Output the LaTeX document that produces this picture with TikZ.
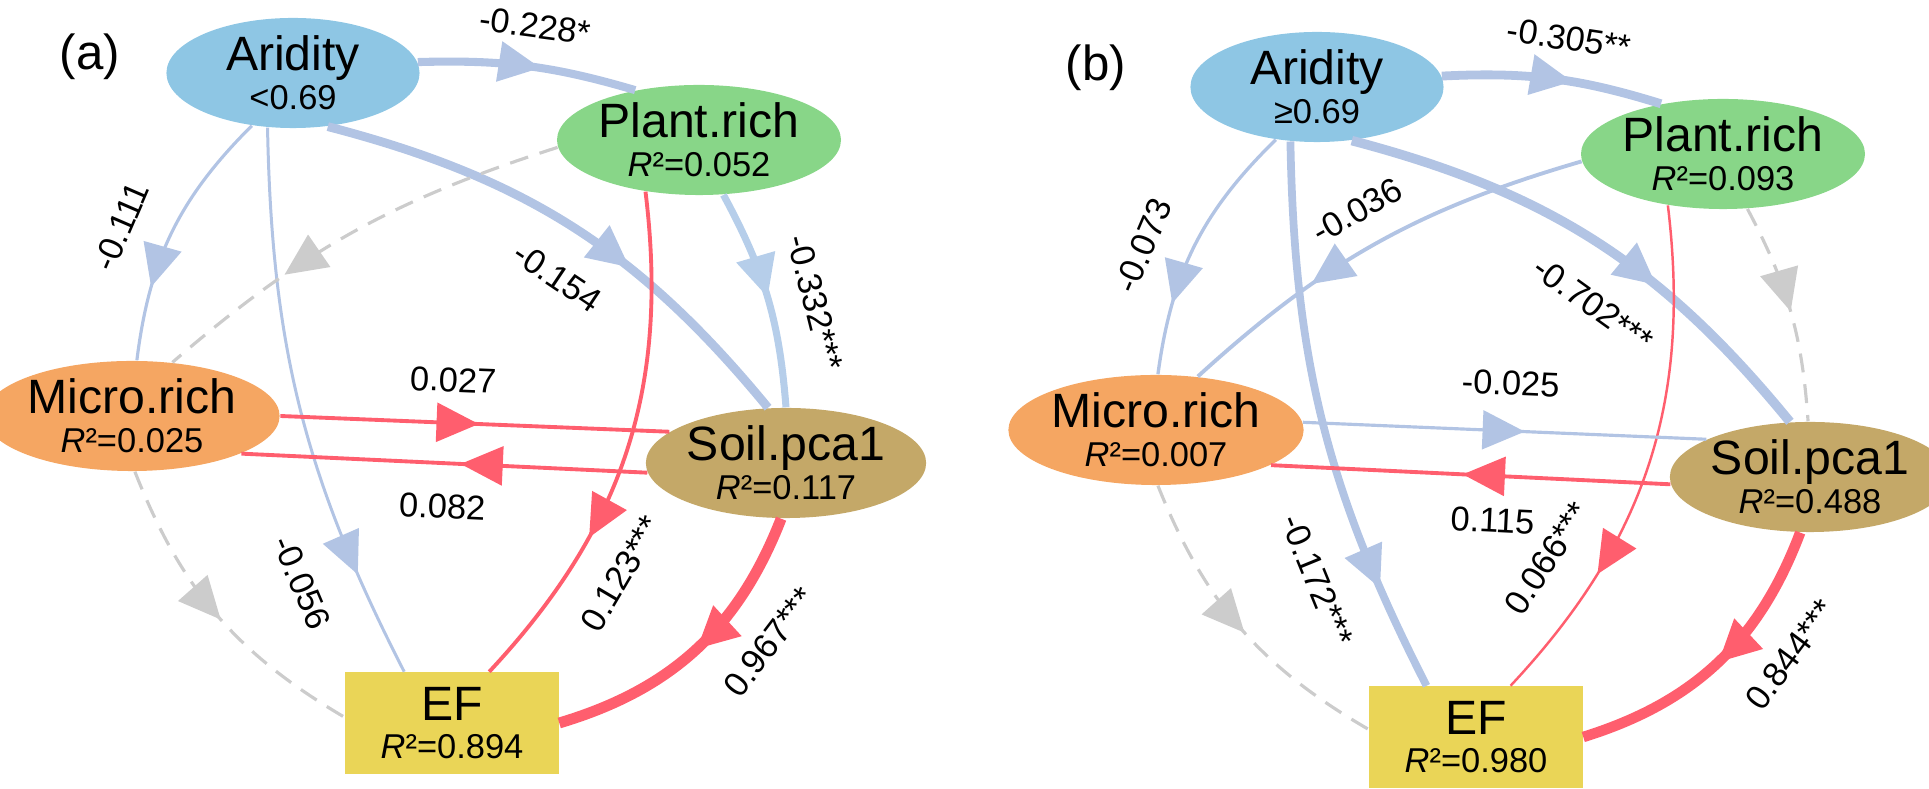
\documentclass[tikz,border=0pt]{standalone}
\usepackage{fontspec}
\setmainfont{Liberation Sans}
\usetikzlibrary{shapes.geometric,arrows.meta,decorations.markings}

\definecolor{aridblue}{RGB}{142,198,228}
\definecolor{plantgreen}{RGB}{136,214,136}
\definecolor{microorange}{RGB}{245,166,98}
\definecolor{soiltan}{RGB}{196,168,104}
\definecolor{efyellow}{RGB}{234,213,87}
\definecolor{negblue}{RGB}{178,196,228}
\definecolor{negblue2}{RGB}{182,206,234}
\definecolor{posred}{RGB}{255,94,110}
\definecolor{nsgrey}{RGB}{204,204,204}

\newcommand{\subtxt}[1]{{\fontsize{9.8}{11}\selectfont #1}}

\begin{document}
\begin{tikzpicture}[x=0.01cm, y=0.01cm,
  every node/.style={font=\fontsize{9.8}{11}\selectfont},
  var/.style={ellipse, inner sep=0pt, minimum height=1.1cm, align=center,
    font=\fontsize{13.7}{11}\selectfont},
  outbox/.style={rectangle, fill=efyellow, inner sep=0pt, minimum width=2.13cm,
    minimum height=1.01cm, align=center, font=\fontsize{13.7}{11}\selectfont},
  midarrow/.style={postaction={decorate, decoration={markings,
    mark=at position #1 with {\arrow{Triangle[length=12pt, width=11pt]}}}}},
  neg/.style={draw=negblue, line width=#1},
  redpath/.style={draw=posred, line width=#1},
  ns/.style={draw=nsgrey, line width=0.9pt, dash pattern=on 5.4pt off 3.4pt},
  lbl/.style={sloped, inner sep=#1}]

  \useasboundingbox (0,0) rectangle (1929,-789);

  % ---------- panel (a): aridity < 0.69 ----------
  \node[font=\fontsize{14}{16}\selectfont] (tagA) at (90,-57) {(a)};

  \node[var, fill=aridblue, minimum width=2.53cm] (aridA) at (293,-73) {Aridity\\\subtxt{<0.69}};
  \node[var, fill=plantgreen, minimum width=2.54cm] (plantA) at (699,-140) {Plant.rich\\\subtxt{\textit{R}²=0.052}};
  \node[var, fill=microorange, minimum width=2.62cm] (microA) at (132,-416) {Micro.rich\\\subtxt{\textit{R}²=0.025}};
  \node[var, fill=soiltan, minimum width=2.38cm] (soilA) at (786,-463) {Soil.pca1\\\subtxt{\textit{R}²=0.117}};
  \node[outbox] (efA) at (452,-723) {EF\\\subtxt{\textit{R}²=0.894}};

  % aridity paths
  \draw[neg=2.3pt, midarrow=0.56] (aridA.5) to[bend left=9]
    node[lbl=7pt, above, pos=0.51] {-0.228*} (plantA.142);
  \draw[neg=0.9pt, midarrow=0.72] (aridA.232) to[bend right=19]
    node[lbl=9.9pt, above, pos=0.56] {-0.111} (microA.85);
  \draw[neg=0.85pt, midarrow=0.81] (aridA.245) to[bend right=13]
    node[lbl=11.6pt, below, pos=0.80] {-0.056} (efA.133);
  \draw[neg=2.5pt, midarrow=0.63] (aridA.-57) to[bend left=18]
    node[lbl=9.6pt, below, pos=0.53] {-0.154} (soilA.108);

  % plant paths
  \draw[draw=negblue2, line width=2pt, midarrow=0.5] (plantA.-66) to[bend left=12]
    node[lbl=8.2pt, above, pos=0.58] {-0.332***} (soilA.90);
  \draw[ns, midarrow=0.68] (plantA.183) to[bend right=11.5] (microA.53);
  \draw[redpath=1.1pt, midarrow=0.68] (plantA.224) to[bend left=25]
    node[lbl=9pt, below, pos=0.72] {0.123***} (efA.54);

  % micro <-> soil
  \draw[redpath=1.1pt, midarrow=0.51] (microA.0) --
    node[lbl=8.2pt, above, pos=0.44] {0.027} (soilA.165);
  \draw[redpath=1.1pt, midarrow=0.46] (soilA.184) --
    node[lbl=8.4pt, below, pos=0.5] {0.082} (microA.341);

  % to EF
  \draw[redpath=3.1pt, midarrow=0.5] (soilA.265) to[bend left=26]
    node[lbl=9pt, below, pos=0.33] {0.967***} (efA.0);
  \draw[ns, midarrow=0.52] (microA.273) to[bend right=19] (efA.177);

  % ---------- panel (b): aridity >= 0.69 ----------
  \node[font=\fontsize{14}{16}\selectfont] (tagB) at (1096,-68) {(b)};

  \node[var, fill=aridblue, minimum width=2.53cm] (aridB) at (1317,-87) {Aridity\\\subtxt{≥0.69}};
  \node[var, fill=plantgreen, minimum width=2.54cm] (plantB) at (1723,-154) {Plant.rich\\\subtxt{\textit{R}²=0.093}};
  \node[var, fill=microorange, minimum width=2.62cm] (microB) at (1156,-430) {Micro.rich\\\subtxt{\textit{R}²=0.007}};
  \node[var, fill=soiltan, minimum width=2.38cm] (soilB) at (1810,-477) {Soil.pca1\\\subtxt{\textit{R}²=0.488}};
  \node[outbox] (efB) at (1476,-737) {EF\\\subtxt{\textit{R}²=0.980}};

  % aridity paths
  \draw[neg=2.5pt, midarrow=0.59] (aridB.5) to[bend left=10]
    node[lbl=7.2pt, above, pos=0.55] {-0.305**} (plantB.141);
  \draw[neg=0.95pt, midarrow=0.73] (aridB.232) to[bend right=19]
    node[lbl=9.3pt, above, pos=0.58] {-0.073} (microB.88);
  \draw[neg=2.2pt, midarrow=0.81] (aridB.244) to[bend right=13]
    node[lbl=11pt, below, pos=0.77] {-0.172***} (efB.134);
  \draw[neg=2.7pt, midarrow=0.64] (aridB.-57) to[bend left=18]
    node[lbl=10.5pt, below, pos=0.57] {-0.702***} (soilB.110);

  % plant paths
  \draw[neg=1.1pt, midarrow=0.67] (plantB.183) to[bend right=13]
    node[lbl=6.8pt, above, pos=0.5] {-0.036} (microB.52);
  \draw[ns, midarrow=0.5] (plantB.-66) to[bend left=12] (soilB.92);
  \draw[redpath=0.7pt, midarrow=0.73] (plantB.223) to[bend left=25]
    node[lbl=10.7pt, above, pos=0.77] {0.066***} (efB.56);

  % micro <-> soil
  \draw[neg=0.9pt, midarrow=0.55] (microB.3.5) --
    node[lbl=9.6pt, above, pos=0.51] {-0.025} (soilB.160.7);
  \draw[redpath=1.1pt, midarrow=0.52] (soilB.183) --
    node[lbl=8.7pt, below, pos=0.44] {0.115} (microB.343);

  % to EF
  \draw[redpath=3pt, midarrow=0.5] (soilB.260) to[bend left=26]
    node[lbl=9pt, below, pos=0.33] {0.844***} (efB.0);
  \draw[ns, midarrow=0.52] (microB.272) to[bend right=19] (efB.176);
\end{tikzpicture}
\end{document}
